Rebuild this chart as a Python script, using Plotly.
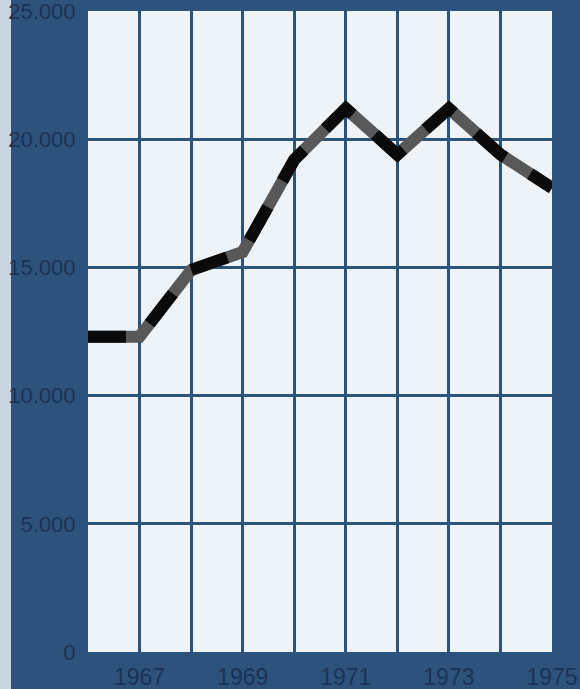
import plotly.graph_objects as go

years = [1966, 1967, 1968, 1969, 1970, 1971, 1972, 1973, 1974, 1975]
values = [12300, 12300, 14900, 15600, 19200, 21200, 19400, 21200, 19400, 18100]

x_tickvals = years
x_ticktext = ["", "1967", "", "1969", "", "1971", "", "1973", "", "1975"]
y_tickvals = [0, 5000, 10000, 15000, 20000, 25000]
y_ticktext = ["0", "5.000", "10.000", "15.000", "20.000", "25.000"]

BG = "#2d527c"
GRID = "#2a537e"
LABEL = "#1a3457"

fig = go.Figure()
fig.add_trace(go.Scatter(x=years, y=values, mode="lines",
                         line=dict(color="#585858", width=12),
                         hoverinfo="skip", showlegend=False))
fig.add_trace(go.Scatter(x=years, y=values, mode="lines",
                         line=dict(color="#0a0a0a", width=12, dash="38px,30px"),
                         hoverinfo="skip", showlegend=False))

W, H = 580, 689
L, R, T, B = 88, 28, 11, 37
pw, ph = W - L - R, H - T - B

fig.add_shape(type="rect", xref="paper", yref="paper",
              x0=-L / pw, x1=-(L - 11) / pw, y0=-B / ph, y1=1 + T / ph,
              fillcolor="#c9d6e2", line=dict(width=0), layer="below")

fig.update_layout(
    width=W, height=H,
    margin=dict(l=L, r=R, t=T, b=B, pad=0, autoexpand=False),
    paper_bgcolor=BG,
    plot_bgcolor="#edf3f7",
    font=dict(family="Liberation Sans, Arial, sans-serif", size=21, color=LABEL),
    xaxis=dict(range=[1966, 1975], tickvals=x_tickvals, ticktext=x_ticktext,
               tickfont=dict(size=23),
               showgrid=True, gridcolor=GRID, gridwidth=3, zeroline=False,
               showline=True, linecolor=GRID, linewidth=2, mirror=True,
               ticks="", ticklabelstandoff=3, fixedrange=True, automargin=False,
               ticklabeloverflow="allow"),
    yaxis=dict(range=[0, 25000], tickvals=y_tickvals, ticktext=y_ticktext,
               tickfont=dict(size=22),
               showgrid=True, gridcolor=GRID, gridwidth=3, zeroline=False,
               showline=True, linecolor=GRID, linewidth=2, mirror=True,
               ticks="", ticklabelstandoff=6, fixedrange=True, automargin=False,
               ticklabeloverflow="allow"),
)

fig.write_html(
    "out.html",
    config={"displayModeBar": False},
    post_script="document.body.style.margin='0';document.body.style.overflow='hidden';"
                "document.body.style.background='" + BG + "';",
)
